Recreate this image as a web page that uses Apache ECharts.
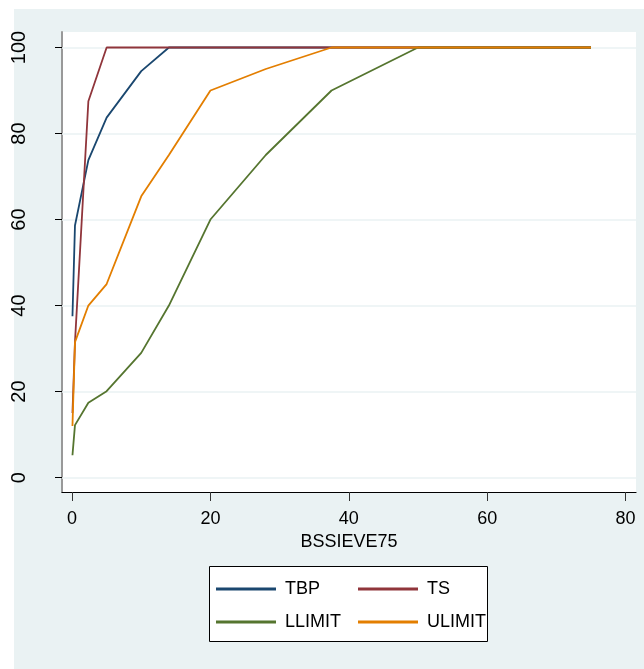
<!DOCTYPE html>
<html>
<head>
<meta charset="utf-8">
<script src="https://cdn.jsdelivr.net/npm/echarts@6/dist/echarts.min.js"></script>
<style>
  html, body { margin: 0; padding: 0; background: #fff; }
  #wrap { position: relative; width: 644px; height: 669px; }
  #bg { position: absolute; left: 14px; top: 9px; width: 630px; height: 660px; background: #eaf2f3; }
  #chart { position: absolute; left: 0; top: 0; width: 644px; height: 669px; }
</style>
</head>
<body>
<div id="wrap"><div id="bg"></div><div id="chart"></div></div>
<script>
// sieve sizes (mm) and % passing
var sieve = [0.063, 0.425, 2.36, 5, 10, 14, 20, 28, 37.5, 50, 75]
var tbp = [37.5, 58.6, 73.8, 83.7, 94.5, 100, 100, 100, 100, 100, 100]
var ts = [15, 31.5, 87.5, 100, 100, 100, 100, 100, 100, 100, 100]
var llimit = [5.2, 12.2, 17.4, 20.1, 29, 40, 60, 75, 90, 100, 100]
var ulimit = [12, 31.5, 40, 45, 65.4, 75, 90, 95, 100, 100, 100]
var xTicks = [0, 20, 40, 60, 80]
var yTicks = [0, 20, 40, 60, 80, 100]

var colors = { TBP: '#1a476f', TS: '#90353b', LLIMIT: '#55752f', ULIMIT: '#e37e00' }
var sans = '"Liberation Sans", Arial, sans-serif'

function pairs (ys) {
  return sieve.map(function (x, i) { return [x, ys[i]] })
}

function makeSeries (name, ys) {
  return {
    name: name,
    type: 'line',
    data: pairs(ys),
    symbol: 'none',
    lineStyle: { color: colors[name], width: 1.8 },
    itemStyle: { color: colors[name] },
    animation: false
  }
}

var series = [
  makeSeries('TBP', tbp),
  makeSeries('TS', ts),
  makeSeries('LLIMIT', llimit),
  makeSeries('ULIMIT', ulimit)
]
// gridlines at the y ticks
series[0].markLine = {
  silent: true,
  symbol: 'none',
  z: 1,
  label: { show: false },
  lineStyle: { color: '#eaf2f3', width: 1.5, type: 'solid' },
  data: yTicks.map(function (v) { return { yAxis: v } })
}

var legendBase = {
  orient: 'vertical',
  top: 580,
  padding: 0,
  itemWidth: 60,
  itemHeight: 3,
  itemGap: 15,
  icon: 'rect',
  selectedMode: false,
  textStyle: { fontFamily: sans, fontSize: 18, color: '#000', padding: [0, 0, 0, 4], lineHeight: 18 }
}

var chart = echarts.init(document.getElementById('chart'))
chart.setOption({
  animation: false,
  grid: {
    left: 62, top: 32, right: 8, bottom: 177,
    show: true, backgroundColor: '#fff', borderWidth: 0
  },
  xAxis: {
    type: 'value',
    min: -1.45,
    max: 81.5,
    name: 'BSSIEVE75',
    nameLocation: 'middle',
    nameGap: 41,
    nameTextStyle: { fontFamily: sans, fontSize: 18, color: '#000' },
    axisLine: { onZero: false, lineStyle: { color: '#000', width: 1.2 } },
    axisTick: { length: 9, lineStyle: { color: '#333' }, customValues: xTicks },
    axisLabel: { fontFamily: sans, fontSize: 18, color: '#000', margin: 18, customValues: xTicks },
    splitLine: { show: false }
  },
  yAxis: {
    type: 'value',
    min: -3.35,
    max: 103.6,
    axisLine: { show: true, onZero: false, lineStyle: { color: '#999', width: 2 } },
    axisTick: { show: true, length: 7, lineStyle: { color: '#000' }, customValues: yTicks },
    axisLabel: {
      fontFamily: sans, fontSize: 20, color: '#000',
      rotate: 90, margin: 33, customValues: yTicks
    },
    splitLine: { show: false }
  },
  legend: [
    Object.assign({}, legendBase, { left: 216, data: ['TBP', 'LLIMIT'] }),
    Object.assign({}, legendBase, { left: 358, data: ['TS', 'ULIMIT'] })
  ],
  graphic: [{
    type: 'rect',
    z: -1,
    shape: { x: 209.5, y: 566.5, width: 278, height: 75 },
    style: { fill: '#fff', stroke: '#000', lineWidth: 1 }
  }],
  series: series
})
</script>
</body>
</html>
